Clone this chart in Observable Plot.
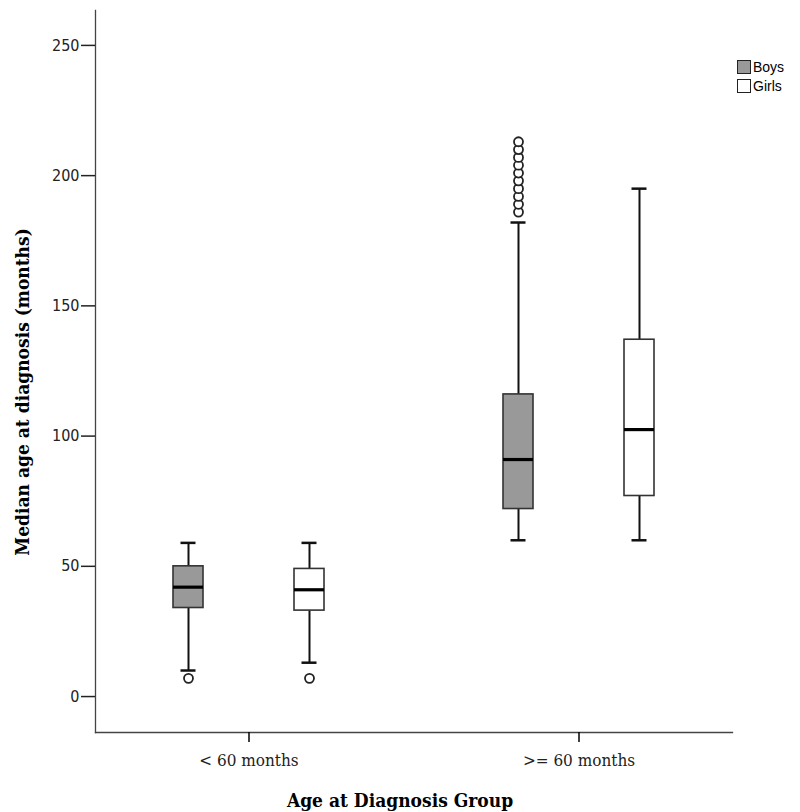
<!DOCTYPE html>
<html><head><meta charset="utf-8">
<script src="https://cdn.jsdelivr.net/npm/d3@7"></script>
<script src="https://cdn.jsdelivr.net/npm/@observablehq/plot@0.6"></script>
<style>
body{margin:0;background:#fff}
#wrap{position:relative;width:800px;height:812px;overflow:hidden}
#chart{position:absolute;left:0;top:0}
.lg{position:absolute;left:737px;font:14px "Liberation Sans",Arial,sans-serif;color:#000;display:flex;align-items:center}
.sw{width:12px;height:12px;border:1px solid #222;margin-right:2px}
#ytitle{position:absolute;left:22px;top:392px;transform:translate(-50%,-50%) rotate(-90deg);white-space:nowrap;font:bold 19px "DejaVu Serif Condensed","DejaVu Serif",serif}
#xtitle{position:absolute;left:400px;top:800px;transform:translate(-50%,-50%);white-space:nowrap;font:bold 19px "DejaVu Serif Condensed","DejaVu Serif",serif}
</style></head>
<body><div id="wrap"><div id="chart"></div>
<div class="lg" style="top:59px"><div class="sw" style="background:#999"></div>Boys</div>
<div class="lg" style="top:78px"><div class="sw" style="background:#fff"></div>Girls</div>
<div id="ytitle">Median age at diagnosis (months)</div>
<div id="xtitle">Age at Diagnosis Group</div>
</div>
<script>
const groups = ["< 60 months", ">= 60 months"];
const sexes = ["Boys", "Girls"];
const boxGroup = ["< 60 months", "< 60 months", ">= 60 months", ">= 60 months"];
const boxSex = ["Boys", "Girls", "Boys", "Girls"];
const whiskerLow = [10, 13, 60, 60];
const q1 = [34, 33, 72, 77];
const median = [42, 41, 91, 102.5];
const q3 = [50, 49, 116, 137];
const whiskerHigh = [59, 59, 182, 195];
const outlierGroup = ["< 60 months", "< 60 months", ">= 60 months", ">= 60 months", ">= 60 months", ">= 60 months", ">= 60 months", ">= 60 months", ">= 60 months", ">= 60 months", ">= 60 months", ">= 60 months"];
const outlierSex = ["Boys", "Girls", "Boys", "Boys", "Boys", "Boys", "Boys", "Boys", "Boys", "Boys", "Boys", "Boys"];
const outlierValue = [7, 7, 186, 189, 192, 195, 198, 201, 204, 207, 210, 213];
const yTicks = [0, 50, 100, 150, 200, 250];

const boxes = boxGroup.map((g, i) => ({group: g, sex: boxSex[i], lo: whiskerLow[i], q1: q1[i], med: median[i], q3: q3[i], hi: whiskerHigh[i]}));
const outliers = outlierGroup.map((g, i) => ({group: g, sex: outlierSex[i], v: outlierValue[i]}));

const chart = Plot.plot({
  width: 800, height: 812,
  marginLeft: 94, marginRight: 68, marginTop: 10, marginBottom: 80,
  style: {background: "white"},
  fx: {domain: groups, paddingInner: 0.07, paddingOuter: 0, label: null},
  x: {domain: sexes, paddingInner: 0.754, paddingOuter: 0.637, axis: null},
  y: {domain: [-13.8, 263.4], axis: null},
  color: {domain: sexes, range: ["#999999", "#ffffff"]},
  marks: [
    Plot.frame({anchor: "left", facet: "super", stroke: "#444", strokeWidth: 1.3}),
    Plot.frame({anchor: "bottom", facet: "super", stroke: "#444", strokeWidth: 1.3}),
    Plot.axisY(yTicks, {tickSize: 14, tickPadding: 2, fontSize: 16, fontFamily: "DejaVu Sans Condensed", label: null, stroke: "#222", strokeWidth: 1.5, fill: "#222"}),
    Plot.axisFx({anchor: "bottom", tickSize: 10, tickPadding: 11, fontSize: 17, fontFamily: "DejaVu Serif Condensed", label: null, strokeWidth: 1.5, fill: "#222"}),
    Plot.ruleX(boxes, {fx: "group", x: "sex", y1: "lo", y2: "q1", stroke: "#111", strokeWidth: 2}),
    Plot.ruleX(boxes, {fx: "group", x: "sex", y1: "q3", y2: "hi", stroke: "#111", strokeWidth: 2}),
    Plot.tickY(boxes, {fx: "group", x: "sex", y: "lo", insetLeft: 7.5, insetRight: 7.5, stroke: "#111", strokeWidth: 2.5}),
    Plot.tickY(boxes, {fx: "group", x: "sex", y: "hi", insetLeft: 7.5, insetRight: 7.5, stroke: "#111", strokeWidth: 2.5}),
    Plot.barY(boxes, {fx: "group", x: "sex", y1: "q1", y2: "q3", fill: "sex", stroke: "#333", strokeWidth: 1.6}),
    Plot.tickY(boxes, {fx: "group", x: "sex", y: "med", stroke: "#000", strokeWidth: 3.2}),
    Plot.dot(outliers, {fx: "group", x: "sex", y: "v", r: 4.5, fill: "white", stroke: "#222", strokeWidth: 1.8})
  ]
});
document.getElementById("chart").appendChild(chart);
</script>
</body></html>
